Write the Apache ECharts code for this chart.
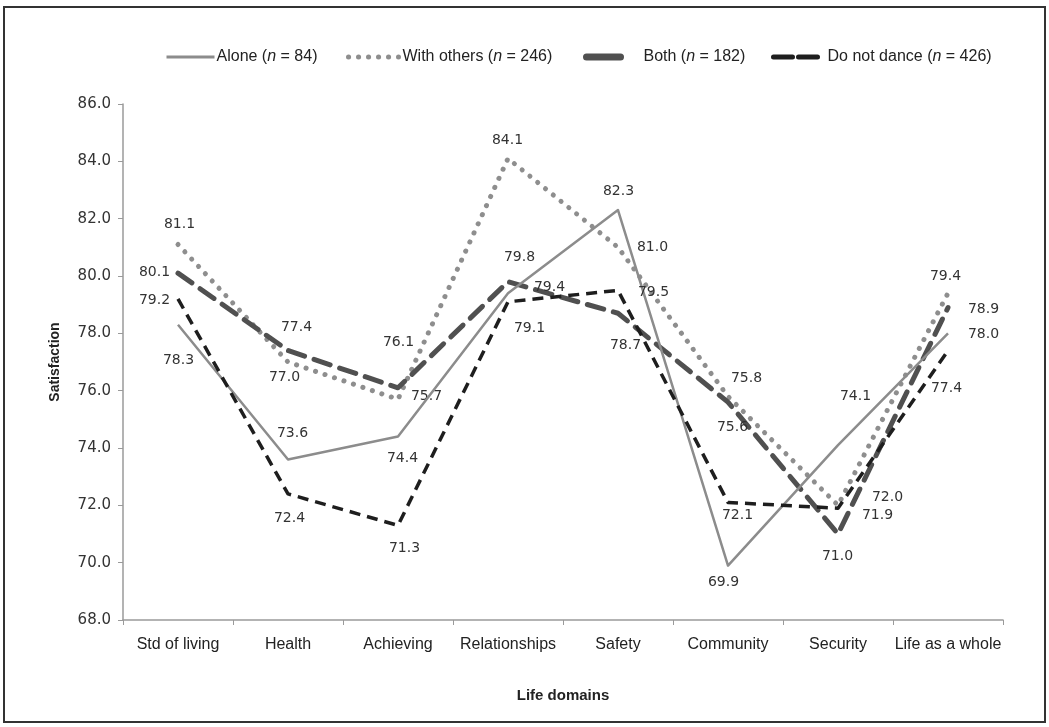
<!DOCTYPE html>
<html>
<head>
<meta charset="utf-8">
<script src="https://cdn.jsdelivr.net/npm/echarts@6/dist/echarts.min.js"></script>
<style>
html,body{margin:0;padding:0;background:#fff;}
#chart{width:1049px;height:727px;}
</style>
</head>
<body>
<div id="chart"></div>
<script>
// ---- data ----
const categories = ['Std of living','Health','Achieving','Relationships','Safety','Community','Security','Life as a whole'];
const seriesNames = ['Alone','With others','Both','Do not dance'];
const seriesN = [84, 246, 182, 426];
const alone      = [78.3, 73.6, 74.4, 79.4, 82.3, 69.9, 74.1, 78.0];
const withOthers = [81.1, 77.0, 75.7, 84.1, 81.0, 75.8, 72.0, 79.4];
const both       = [80.1, 77.4, 76.1, 79.8, 78.7, 75.6, 71.0, 78.9];
const doNotDance = [79.2, 72.4, 71.3, 79.1, 79.5, 72.1, 71.9, 77.4];
const yTicks = {min: 68, max: 86, interval: 2};

// ---- label placement (pixel offsets of label centre from the point) ----
const labelOffsets = [
  [[1,36],[5,-26],[5,22],[42,-5],[1,-18],[-4,17],[18,-48],[36,2]],
  [[2,-20],[-3,16],[29,-2],[0,-18],[35,1],[19,-18],[50,-7],[-2,-16]],
  [[-23,0],[9,-23],[1,-45],[12,-24],[8,33],[5,26],[0,23],[36,2]],
  [[-23,2],[2,25],[7,23],[22,27],[36,3],[10,13],[40,8],[-1,38]]
];

const styles = [
  {color:'#8c8c8c', width:2.5, type:'solid', cap:'butt', z:4},
  {color:'#8e8e8e', width:5, type:[0.1, 9.9], cap:'round', z:2},
  {color:'#505050', width:5, type:[17, 10], cap:'round', z:3},
  {color:'#1e1e1e', width:3.5, type:[11, 7], cap:'butt', z:5}
];
const legendIcons = [
  {type:'solid', width:3},
  {type:[0.1, 9.9], width:5, cap:'round'},
  {type:'solid', width:7, cap:'round'},
  {type:[19, 6], width:5, cap:'round'}
];
const legendLeft = [165, 346, 583, 771];
const legendIconWidth = [48, 50, 34, 46];
const legendTextPad = [-3, -1, 18, 3];

const allData = [alone, withOthers, both, doNotDance];
const fullName = i => seriesNames[i] + ' (n = ' + seriesN[i] + ')';

const series = allData.map((vals, si) => ({
  name: fullName(si),
  type: 'line',
  z: styles[si].z,
  symbol: 'circle',
  symbolSize: 1,
  showSymbol: true,
  itemStyle: {color: 'rgba(0,0,0,0)'},
  lineStyle: {color: styles[si].color, width: styles[si].width, type: styles[si].type, cap: styles[si].cap, join: 'round'},
  emphasis: {disabled: true},
  animation: false,
  data: vals.map((v, i) => ({
    value: v,
    label: {
      show: true,
      position: labelOffsets[si][i],
      align: 'center',
      verticalAlign: 'middle',
      formatter: p => p.value.toFixed(1),
      fontFamily: 'DejaVu Sans',
      fontSize: 14,
      color: '#333'
    }
  }))
}));

const legends = seriesNames.map((n, si) => ({
  left: legendLeft[si],
  top: 49,
  padding: 0,
  itemWidth: legendIconWidth[si],
  itemHeight: 20,
  itemGap: 0,
  selectedMode: false,
  textStyle: {
    fontFamily: 'Liberation Sans', fontSize: 16, color: '#222', padding: [0,0,0,legendTextPad[si]],
    rich: {
      t: {fontFamily: 'Liberation Sans', fontSize: 16, color: '#222'},
      i: {fontFamily: 'Liberation Sans', fontSize: 16, color: '#222', fontStyle: 'italic'}
    }
  },
  formatter: name => '{t|' + seriesNames[si] + ' (}{i|n}{t| = ' + seriesN[si] + ')}',
  data: [{
    name: fullName(si),
    lineStyle: Object.assign({color: styles[si].color}, legendIcons[si])
  }]
}));

const chart = echarts.init(document.getElementById('chart'), null, {renderer: 'canvas'});
chart.setOption({
  backgroundColor: '#fff',
  animation: false,
  legend: legends,
  grid: {left: 123, right: 46, top: 104, bottom: 107, containLabel: false},
  xAxis: {
    type: 'category',
    data: categories,
    boundaryGap: true,
    name: 'Life domains',
    nameLocation: 'middle',
    nameGap: 68,
    nameTextStyle: {fontFamily: 'Liberation Sans', fontWeight: 'bold', fontSize: 15, color: '#222'},
    axisLine: {lineStyle: {color: '#9a9a9a', width: 1.5}},
    axisTick: {show: true, length: 5, alignWithLabel: false, lineStyle: {color: '#9a9a9a'}},
    axisLabel: {interval: 0, margin: 17, fontFamily: 'Liberation Sans', fontSize: 16, color: '#222'},
    splitLine: {show: false}
  },
  yAxis: {
    type: 'value',
    min: yTicks.min, max: yTicks.max, interval: yTicks.interval,
    name: 'Satisfaction',
    nameLocation: 'middle',
    nameRotate: 90,
    nameGap: 61,
    nameTextStyle: {fontFamily: 'Liberation Sans', fontWeight: 'bold', fontSize: 14, color: '#222'},
    axisLine: {show: true, lineStyle: {color: '#9a9a9a', width: 1.5}},
    axisTick: {show: true, length: 5, lineStyle: {color: '#9a9a9a'}},
    axisLabel: {margin: 12, fontFamily: 'DejaVu Sans', fontSize: 15, color: '#333', formatter: v => v.toFixed(1)},
    splitLine: {show: false}
  },
  graphic: [{
    type: 'rect',
    shape: {x: 4, y: 7, width: 1041, height: 715},
    style: {fill: 'none', stroke: '#333', lineWidth: 2},
    silent: true,
    z: 100
  }],
  series: series
});
</script>
</body>
</html>
